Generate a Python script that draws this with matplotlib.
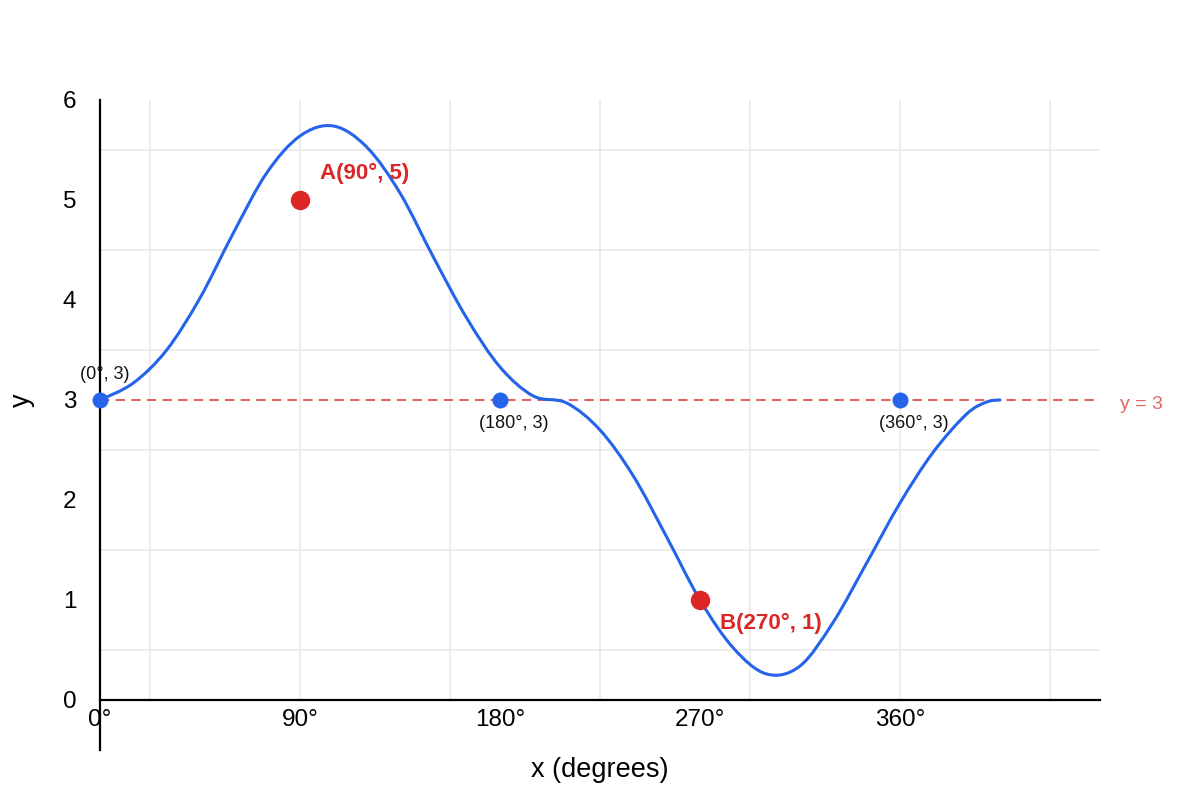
import matplotlib
matplotlib.use('Agg')
import matplotlib.pyplot as plt
from matplotlib.path import Path
from matplotlib.patches import PathPatch

plt.rcParams['font.family'] = ['Liberation Sans', 'DejaVu Sans']

# ── data (about every 15°) ─────────────────────────────────────────────────
curve_x = [0, 15, 30, 45, 60, 75, 90, 105, 120, 135, 150, 165, 180, 195,
           210, 225, 240, 255, 270, 285, 300, 315, 330, 345, 360, 375, 390, 399, 405]
curve_y = [3.0, 3.17, 3.50, 4.02, 4.67, 5.27, 5.64, 5.74, 5.53, 5.07, 4.43, 3.82, 3.33, 3.04,
           2.97, 2.70, 2.24, 1.63, 1.0, 0.52, 0.26, 0.34, 0.78, 1.37, 1.97, 2.48, 2.86, 2.98, 3.0]

blue_x = [0, 180, 360]
blue_y = [3, 3, 3]
blue_labels = ['(0°, 3)', '(180°, 3)', '(360°, 3)']

red_x = [90, 270]
red_y = [5, 1]
red_labels = ['A(90°, 5)', 'B(270°, 1)']

ref_level = 3
x_ticks = [0, 90, 180, 270, 360]
x_ticklabels = ['0°', '90°', '180°', '270°', '360°']
y_ticks = [0, 1, 2, 3, 4, 5, 6]
grid_x = [22.5, 90, 157.5, 225, 292.5, 360, 427.5]
grid_y = [0.5, 1.5, 2.5, 3.5, 4.5, 5.5]

X_MAX = 450
Y_MAX = 6

BLUE = '#2563eb'
RED = '#dc2626'
DASH_RED = '#e06666'
GRID = '#e8e8e8'


def smooth_path(xs, ys):
    """Catmull-Rom style bezier path through the points (drawn smooth, like the original)."""
    pts = list(zip(xs, ys))
    verts = [pts[0]]
    codes = [Path.MOVETO]
    n = len(pts)
    for i in range(n - 1):
        p0 = pts[max(i - 1, 0)]
        p1 = pts[i]
        p2 = pts[i + 1]
        p3 = pts[min(i + 2, n - 1)]
        c1 = (p1[0] + (p2[0] - p0[0]) / 6, p1[1] + (p2[1] - p0[1]) / 6)
        c2 = (p2[0] - (p3[0] - p1[0]) / 6, p2[1] - (p3[1] - p1[1]) / 6)
        verts += [c1, c2, p2]
        codes += [Path.CURVE4] * 3
    return Path(verts, codes)


fig = plt.figure(figsize=(12, 8), dpi=100)
ax = fig.add_axes([100 / 1200, 50 / 800, 1000 / 1200, 650 / 800])
ax.set_xlim(0, X_MAX)
ax.set_ylim(-0.5, Y_MAX)

# grid (only inside the 0..6 band)
ax.vlines(grid_x, 0, Y_MAX, color=GRID, lw=1.1, zorder=0)
ax.hlines(grid_y, 0, X_MAX, color=GRID, lw=1.1, zorder=0)

# spines
for s in ('top', 'right'):
    ax.spines[s].set_visible(False)
ax.spines['bottom'].set_position(('data', 0))
ax.spines['left'].set_linewidth(1.6)
ax.spines['bottom'].set_linewidth(1.6)

# reference line y = 3
ax.hlines(ref_level, 0, X_MAX, color=DASH_RED, lw=1.5, linestyles=(0, (4.5, 3)), zorder=1)
ax.annotate(f'y = {ref_level}', xy=(X_MAX, ref_level), xytext=(14.4, -3),
            textcoords='offset points', ha='left', va='center',
            fontsize=14, color=DASH_RED, annotation_clip=False)

# curve
ax.add_patch(PathPatch(smooth_path(curve_x, curve_y), fill=False, edgecolor=BLUE,
                       lw=2.2, zorder=3, capstyle='round'))

# blue points
ax.plot(blue_x, blue_y, 'o', color=BLUE, ms=11.5, mew=0, zorder=4, clip_on=False)
offsets = [(3.2, 18.7), (10, -17), (10, -17)]
for x, y, lbl, off in zip(blue_x, blue_y, blue_labels, offsets):
    ax.annotate(lbl, xy=(x, y), xytext=off, textcoords='offset points',
                ha='center', va='center', fontsize=13, color='#111111', zorder=5)

# red points
ax.plot(red_x, red_y, 'o', color=RED, ms=14, mew=0, zorder=4)
red_offsets = [(14.4, 19.4), (14.4, -16.6)]
for x, y, lbl, off in zip(red_x, red_y, red_labels, red_offsets):
    ax.annotate(lbl, xy=(x, y), xytext=off, textcoords='offset points',
                ha='left', va='center', fontsize=16, fontweight='bold', color=RED, zorder=5)

# ticks
ax.set_xticks(x_ticks)
ax.set_xticklabels(x_ticklabels)
ax.set_yticks(y_ticks)
ax.tick_params(axis='x', length=0, pad=6.5, labelsize=17.5)
ax.tick_params(axis='y', length=0, pad=17, labelsize=17.5)

# axis titles placed as in the reference
fig.text(600 / 1200, 1 - 770 / 800, 'x (degrees)', fontsize=19.5, ha='center', va='center')
fig.text(22 / 1200, 1 - 400 / 800, 'y', fontsize=19.5, ha='center', va='center', rotation=90)

fig.savefig('out.png', dpi=100)
